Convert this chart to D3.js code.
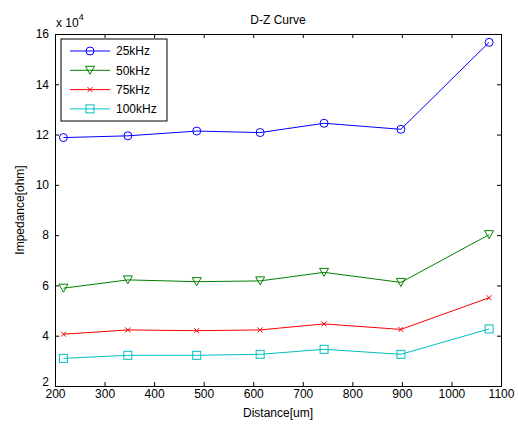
<!DOCTYPE html>
<html>
<head>
<meta charset="utf-8">
<script src="https://cdn.jsdelivr.net/npm/d3@7"></script>
<style>
  body { margin: 0; background: #fff; }
  text { font-family: "Liberation Sans", Arial, sans-serif; }
</style>
</head>
<body>
<div id="chart"></div>
<script>
// distances (um)
const distances = [217, 347, 486, 614, 743, 898, 1076];
// impedance, in units of 1e4 ohm
const z25k = [11.88, 11.95, 12.14, 12.08, 12.45, 12.21, 15.67];
const z50k = [5.89, 6.22, 6.15, 6.18, 6.52, 6.12, 8.02];
const z75k = [4.06, 4.23, 4.2, 4.23, 4.47, 4.25, 5.51];
const z100k = [3.1, 3.22, 3.22, 3.26, 3.46, 3.26, 4.27];
const seriesNames = ["25kHz", "50kHz", "75kHz", "100kHz"];
const xTicks = [200, 300, 400, 500, 600, 700, 800, 900, 1000, 1100];
const yTicks = [2, 4, 6, 8, 10, 12, 14, 16];

const svgWidth = 518, svgHeight = 426;
const margin = { top: 34, right: 17, bottom: 40, left: 55 };
const width = svgWidth - margin.left - margin.right;
const height = svgHeight - margin.top - margin.bottom;

const svg = d3.select("#chart").append("svg")
    .attr("width", svgWidth)
    .attr("height", svgHeight);

const g = svg.append("g")
    .attr("transform", `translate(${margin.left},${margin.top})`);

const xScale = d3.scaleLinear().domain([200, 1100]).range([0, width]);
const yScale = d3.scaleLinear().domain([2, 16]).range([height, 0]);

// axes, MATLAB style: ticks inside, box on
const fontSize = 12;
g.append("g")
    .attr("transform", `translate(0,${height})`)
    .call(d3.axisBottom(xScale).tickValues(xTicks).tickSize(-4).tickPadding(3).tickFormat(d3.format("d")))
    .call(a => a.selectAll("text").attr("font-size", fontSize));
g.append("g")
    .call(d3.axisLeft(yScale).tickValues(yTicks).tickSize(-4).tickPadding(6))
    .call(a => a.selectAll("text").attr("font-size", fontSize))
    // lowest label sits a little higher so it clears the "200" below
    .call(a => a.selectAll(".tick text").filter(d => d === 2).attr("dy", "-0.05em"));
g.append("g")
    .call(d3.axisTop(xScale).tickValues(xTicks).tickSize(-4).tickFormat(""));
g.append("g")
    .attr("transform", `translate(${width},0)`)
    .call(d3.axisRight(yScale).tickValues(yTicks).tickSize(-4).tickFormat(""));
g.selectAll(".domain").attr("stroke", "#000");
g.selectAll(".tick line").attr("stroke", "#000");
g.selectAll(".tick text").attr("fill", "#000").style("font-family", "Liberation Sans, Arial, sans-serif");

// exponent label
const expo = svg.append("text")
    .attr("x", margin.left + 1)
    .attr("y", 27)
    .attr("font-size", fontSize)
    .attr("fill", "#000");
expo.append("tspan").text("x 10");
expo.append("tspan").attr("dy", -7).attr("font-size", 9).text("4");

// title and labels
svg.append("text")
    .attr("x", margin.left + width / 2)
    .attr("y", 24)
    .attr("text-anchor", "middle")
    .attr("font-size", fontSize)
    .text("D-Z Curve");
svg.append("text")
    .attr("x", margin.left + width / 2)
    .attr("y", 417)
    .attr("text-anchor", "middle")
    .attr("font-size", fontSize)
    .text("Distance[um]");
svg.append("text")
    .attr("transform", `translate(24,${margin.top + height / 2}) rotate(-90)`)
    .attr("text-anchor", "middle")
    .attr("font-size", fontSize)
    .text("Impedance[ohm]");

const series = [
    { name: seriesNames[0], values: z25k, color: "#0000ff", marker: "circle" },
    { name: seriesNames[1], values: z50k, color: "#008000", marker: "triangle" },
    { name: seriesNames[2], values: z75k, color: "#ff0000", marker: "x" },
    { name: seriesNames[3], values: z100k, color: "#00bfbf", marker: "square" }
];

function drawMarker(sel, type, color) {
    if (type === "circle") {
        sel.append("circle").attr("r", 4).attr("fill", "none").attr("stroke", color);
    } else if (type === "triangle") {
        sel.append("path").attr("d", "M-4.5,-4 L4.5,-4 L0,4 Z").attr("fill", "none").attr("stroke", color);
    } else if (type === "x") {
        sel.append("path").attr("d", "M-2.5,-2.5 L2.5,2.5 M-2.5,2.5 L2.5,-2.5").attr("stroke", color);
    } else {
        sel.append("rect").attr("x", -4).attr("y", -4).attr("width", 8).attr("height", 8)
            .attr("fill", "none").attr("stroke", color);
    }
}

const line = d3.line()
    .x((d, i) => xScale(distances[i]))
    .y(d => yScale(d));

series.forEach(s => {
    g.append("path")
        .datum(s.values)
        .attr("fill", "none")
        .attr("stroke", s.color)
        .attr("stroke-width", 1)
        .attr("d", line);
    s.values.forEach((v, i) => {
        const m = g.append("g")
            .attr("transform", `translate(${xScale(distances[i])},${yScale(v)})`);
        drawMarker(m, s.marker, s.color);
    });
});

// legend
const legend = g.append("g").attr("transform", "translate(6,5)");
legend.append("rect")
    .attr("width", 106).attr("height", 82)
    .attr("fill", "#fff").attr("stroke", "#000");
series.forEach((s, i) => {
    const ly = 12 + i * 19.3;
    legend.append("line")
        .attr("x1", 9).attr("x2", 49).attr("y1", ly).attr("y2", ly)
        .attr("stroke", s.color);
    const m = legend.append("g").attr("transform", `translate(29,${ly})`);
    drawMarker(m, s.marker, s.color);
    legend.append("text")
        .attr("x", 55).attr("y", ly).attr("dy", "0.35em")
        .attr("font-size", fontSize)
        .text(s.name);
});
</script>
</body>
</html>
